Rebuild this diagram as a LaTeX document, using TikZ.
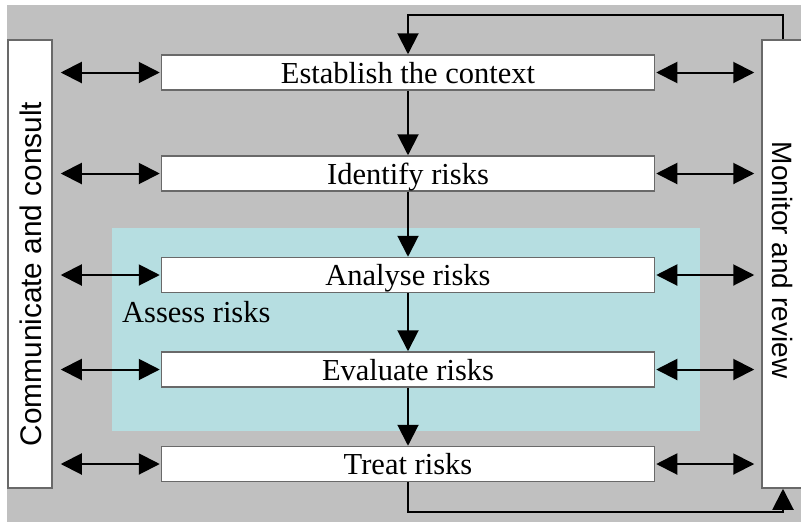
\documentclass[tikz,border=0pt]{standalone}
\usepackage{fontspec}
\setmainfont{Liberation Serif}
\newfontfamily\sansf{Liberation Sans}
\usetikzlibrary{arrows.meta,calc}
\definecolor{bggray}{RGB}{192,192,192}
\definecolor{assesscyan}{RGB}{182,222,225}
\definecolor{boxline}{RGB}{105,105,105}
\begin{document}
\begin{tikzpicture}[x=1pt,y=-1pt,line join=miter,
  stepbox/.style={draw=boxline, line width=1.5pt, fill=white, minimum width=493pt, minimum height=35pt, inner sep=0pt, text height=21pt, text depth=0pt, font=\fontsize{30.5}{36}\selectfont},
  sidebox/.style={draw=boxline, line width=1.5pt, fill=white, inner sep=0pt},
  conn/.style={line width=2pt, -{Triangle[length=21pt,width=21pt]}},
  dconn/.style={line width=2pt, {Triangle[length=21pt,width=21pt]}-{Triangle[length=21pt,width=21pt]}}]
\useasboundingbox (0,0) rectangle (801,523);
\clip (0,0) rectangle (801,523);
\fill[white] (0,0) rectangle (801,523);
\fill[bggray] (7,5) rectangle (801,522);
\fill[assesscyan] (112,228) rectangle (700,431);
% side boxes
\node[sidebox, minimum width=44pt, minimum height=448pt] (cc) at (30,264) {};
\node[rotate=90, inner sep=0pt, font=\sansf\fontsize{29.8}{34}\selectfont] (cctext) at (31,274) {Communicate and consult};
\node[sidebox, minimum width=48pt, minimum height=448pt] (mr) at (786,264) {};
\node[rotate=-90, inner sep=0pt, font=\sansf\fontsize{28}{34}\selectfont] (mrtext) at (783,260) {Monitor and review};
% step boxes
\node[stepbox] (est) at (408,72.5) {Establish the context};
\node[stepbox] (ide) at (408,173.5) {Identify risks};
\node[stepbox] (ana) at (408,275) {Analyse risks};
\node[stepbox] (eva) at (408,369.5) {Evaluate risks};
\node[stepbox] (tre) at (408,464) {Treat risks};
\node[anchor=west, inner sep=0pt, text height=21pt, text depth=0pt, font=\fontsize{30.5}{36}\selectfont] (ass) at (122,312) {Assess risks};
% vertical flow
\draw[conn] (est) -- (ide);
\draw[conn] (ide) -- (ana);
\draw[conn] (ana) -- (eva);
\draw[conn] (eva) -- (tre);
% double arrows
\foreach \n in {est,ide,ana,eva,tre}{
  \draw[dconn] ($(cc.east |- \n.west)+(8,0)$) -- ($(\n.west)+(-1,0)$);
  \draw[dconn] ($(\n.east)+(1,0)$) -- ($(mr.west |- \n.east)+(-7,0)$);
}
% feedback loop
\coordinate (rcol) at (783,0);
\coordinate (topc) at (408,15);
\coordinate (botc) at (408,512);
\draw[conn] (mr.north -| rcol) -- (topc -| rcol) -- (topc) -- (est.north);
\draw[conn] (tre.south) -- (botc) -- (botc -| rcol) -- (mr.south -| rcol);
\end{tikzpicture}
\end{document}
